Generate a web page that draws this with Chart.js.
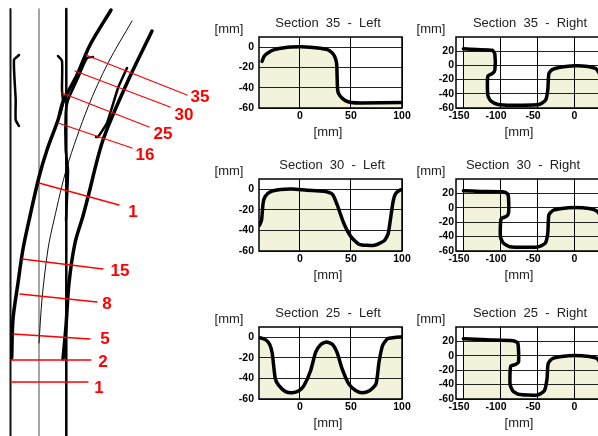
<!DOCTYPE html>
<html lang="en">

<head>
    <meta charset="UTF-8">
    <script src="https://cdn.jsdelivr.net/npm/chart.js@4"></script>
    <title>Rail sections</title>
    <style>
        html, body { margin: 0; padding: 0; width: 598px; height: 436px; overflow: hidden; background: #fff; }
        canvas { position: absolute; }
    </style>
</head>

<body>
    <canvas id="plan" width="212" height="436" style="left:0;top:0"></canvas>
    <canvas id="c35l" width="216" height="130" style="left:212px;top:10px"></canvas>
    <canvas id="c35r" width="195" height="130" style="left:409px;top:10px"></canvas>
    <canvas id="c30l" width="216" height="130" style="left:212px;top:152px"></canvas>
    <canvas id="c30r" width="195" height="130" style="left:409px;top:152px"></canvas>
    <canvas id="c25l" width="216" height="130" style="left:212px;top:300px"></canvas>
    <canvas id="c25r" width="195" height="130" style="left:409px;top:300px"></canvas>
</body>
<script>
    // section profiles, [mm] across / [mm] height
    const sec35Left = [[-37,-14],[-35,-9],[-31,-5.5],[-25,-2.5],[-15,-0.5],[0,0.3],[10,0],[20,-1],[27,-2.5],[31,-5],[34,-9],[36,-16],[36.5,-30],[37,-42],[38,-46],[41,-50],[45,-53],[50,-54.5],[60,-55],[100,-54.5]];
    const sec30Left = [[-39.5,-35],[-37.5,-30],[-36,-13.5],[-34,-7],[-29,-2.6],[-19,-0.3],[-7.5,0.3],[7,-1],[23.5,-2],[32,-5],[36.5,-15],[43,-33],[50,-46],[58,-53.5],[73,-54.4],[82.5,-50],[86.5,-43],[91,-13.4],[93.5,-4.6],[97.5,-1],[100,-0.3]];
    const sec25Left = [[-39.5,-0.3],[-34,-2],[-29.5,-7],[-27,-16],[-24,-40.5],[-20.5,-47],[-14,-52.8],[-7.5,-54],[-1,-52],[4,-47],[10.5,-32.5],[15.5,-14.5],[20.5,-7],[26,-4.6],[32,-7],[36.5,-15],[41.5,-31],[48,-45.5],[55,-52],[61,-54],[68,-52],[74.5,-45.5],[77.5,-24],[81,-8],[86,-1.3],[92.5,-0.3],[100,0.3]];
    const sec35Right = [[-150,23.3],[-132,22.3],[-111,21.4],[-107.5,16],[-107.5,-7],[-111,-11.6],[-117,-15],[-117,-42],[-113,-50],[-103,-55],[-85,-56],[-48,-55],[-39,-49],[-36,-35],[-34.5,-11.5],[-30,-6],[-17,-2.3],[0,-0.5],[18,-1.4],[29,-4.6],[35.5,-14]];
    const sec30Right = [[-150,23.7],[-127,22.8],[-97,22.3],[-90.5,19.5],[-89,13.5],[-89,-7.4],[-92,-12],[-99,-15.3],[-100,-40],[-96.5,-48.4],[-87.5,-54],[-50,-54.4],[-39.5,-49.3],[-36,-35.3],[-34.5,-10],[-29,-3.7],[-17,-1],[0,0.5],[20,-1],[31,-5],[36.5,-13.5]];
    const sec25Right = [[-150,23.7],[-118,22.3],[-83,21],[-76.5,17.7],[-75.5,-8.8],[-79.5,-12],[-86,-14.4],[-87,-39],[-83.5,-48.4],[-75.5,-53.5],[-50,-54.4],[-40.5,-48.4],[-37,-32],[-35.5,-11],[-30,-4],[-17,-1],[0,0.5],[20,-1],[31,-4],[36.5,-12.5]];

    const xTicksLeft = [0, 50, 100];
    const xTicksRight = [-150, -100, -50, 0];
    const yTicksLeft = [0, -20, -40, -60];
    const yTicksRight = [20, 0, -20, -40, -60];

    // plan view of the turnout
    const railLeft = [[10.5,9],[10.5,436]];
    const axisMain = [[39,9],[39,436]];
    const railRight = [[66.3,9],[66.3,436]];
    const railBranchA = [[111,10],[90,45],[77,75],[63,102],[58,120],[47,150],[39,177],[30,216],[23,249],[18,283],[13,319],[11.7,358]];
    const railBranchB = [[152,31],[127,83],[103,140],[88,197],[83,216],[75,243],[69,283],[66,326],[63,359]];
    const axisBranch = [[132,21],[108,63],[88,107],[67,167],[54,220],[48,249],[42,299],[39,343]];
    const wingLeft = [[19,55],[14,60],[15.7,100],[15.7,120],[19,126]];
    const wingRight = [[58,56],[62,61],[62,90],[63,103],[60,115]];
    const closure = [[93,57],[87,58],[78,78],[68,100],[65.7,113],[65.7,150],[68,170],[66,220]];
    const guardRight = [[127,68],[118,88],[107,123],[98,137],[96,137]];

    const sectionLabels = ['35', '30', '25', '16', '1', '15', '8', '5', '2', '1'];
    const sectionFrom = [[86,55],[75,71],[62,93],[58,123],[39,183],[22,259],[20,294],[13,334],[11,360],[11,382]];
    const sectionTo = [[187,95],[170,107],[149,127],[132,148],[119,205],[103,269],[97,302],[90,339],[91,360],[88,382]];
    const labelAt = [[200,97],[184,115],[163,134],[145,155],[133,212],[120,271],[107,304],[105,339],[103,362],[99,388]];

    Chart.defaults.font.family = '"Liberation Sans", Arial, sans-serif';
    Chart.defaults.animation = false;

    const toPoints = arr => arr.map(p => ({ x: p[0], y: p[1] }));

    function planLine(arr, width, color, tension) {
        return { data: toPoints(arr), showLine: true, pointRadius: 0, borderWidth: width, borderColor: color, tension: tension, borderCapStyle: 'round', fill: false };
    }

    const planSets = [];
    sectionFrom.forEach((p, i) => planSets.push(planLine([p, sectionTo[i]], 1.3, '#f00', 0)));
    planSets.push(
        planLine(railRight, 2.5, '#000', 0),
        planLine(railBranchA, 3.5, '#000', 0.3),
        planLine(railBranchB, 3.5, '#000', 0.3),
        planLine(wingLeft, 2.5, '#000', 0.2),
        planLine(wingRight, 2.5, '#000', 0.2),
        planLine(closure, 2.5, '#000', 0.2),
        planLine(guardRight, 2.5, '#000', 0.1),
        planLine(railLeft, 2, '#111', 0),
        planLine(axisBranch, 1, '#111', 0.3),
        planLine(axisMain, 1.5, '#888', 0)
    );

    new Chart(document.getElementById('plan'), {
        type: 'scatter',
        data: { datasets: planSets },
        options: {
            responsive: false,
            layout: { autoPadding: false },
            plugins: { legend: { display: false }, tooltip: { enabled: false } },
            scales: {
                x: { display: false, min: 0, max: 212 },
                y: { display: false, min: 0, max: 436, reverse: true }
            }
        },
        plugins: [{
            id: 'sectionNames',
            afterDatasetsDraw(chart) {
                const ctx = chart.ctx;
                ctx.save();
                ctx.fillStyle = '#f00';
                ctx.font = 'bold 17px "Liberation Sans"';
                ctx.textAlign = 'center';
                ctx.textBaseline = 'middle';
                sectionLabels.forEach((t, i) => {
                    ctx.fillText(t, chart.scales.x.getPixelForValue(labelAt[i][0]), chart.scales.y.getPixelForValue(labelAt[i][1]));
                });
                ctx.restore();
            }
        }]
    });

    function section(id, title, curve, isRight, plotH, textX, fillFrom) {
        const xMin = isRight ? -160 : -40, xMax = isRight ? 40 : 100;
        const yMax = isRight ? 40 : 10;
        const xTicks = isRight ? xTicksRight : xTicksLeft;
        const yTicks = isRight ? yTicksRight : yTicksLeft;
        const fillPts = fillFrom !== undefined ? [[xMin, fillFrom], ...curve] : curve;
        const canvas = document.getElementById(id);
        const plotLeft = 47;
        const plotTop = 27;
        // right panels: labels sit a little left of their grid lines in the original
        const xLabel = v => (isRight && v !== 0) ? v + '   ' : String(v);
        new Chart(canvas, {
            type: 'scatter',
            data: {
                datasets: [
                    { data: toPoints(curve), showLine: true, pointRadius: 0, borderWidth: 3.5, borderColor: '#000', fill: false, tension: 0.2, borderCapStyle: 'round', borderJoinStyle: 'round' },
                    { data: toPoints(fillPts), showLine: true, pointRadius: 0, borderWidth: 0, borderColor: 'transparent', backgroundColor: '#f3f2da', fill: 'start', tension: 0.2 }
                ]
            },
            options: {
                responsive: false,
                layout: { autoPadding: false, padding: { top: plotTop, left: 0, right: isRight ? 0 : 26, bottom: 0 } },
                plugins: { legend: { display: false }, tooltip: { enabled: false } },
                scales: {
                    x: {
                        type: 'linear', min: xMin, max: xMax,
                        afterBuildTicks: s => { s.ticks = xTicks.map(v => ({ value: v })); },
                        afterFit: s => { s.height = canvas.height - plotTop - plotH; },
                        grid: { color: '#000', lineWidth: 1, drawTicks: false },
                        border: { display: false },
                        ticks: { color: '#000', font: { size: 10.5, weight: 'bold' }, padding: 2, maxRotation: 0, autoSkip: false, callback: xLabel }
                    },
                    y: {
                        type: 'linear', min: -60, max: yMax,
                        afterBuildTicks: s => { s.ticks = yTicks.map(v => ({ value: v })); },
                        afterFit: s => { s.width = plotLeft; },
                        grid: { color: '#222', lineWidth: 1, drawTicks: false },
                        border: { display: false },
                        ticks: { color: '#000', font: { size: 10.5, weight: 'bold' }, padding: isRight ? 2 : 5, autoSkip: false, callback: v => String(v) }
                    }
                }
            },
            plugins: [{
                id: 'panelFrame',
                // grid has to show through the beige, so it goes back on top of the fill here
                beforeDatasetDraw(chart, args) {
                    if (args.index !== 0) return;
                    chart.scales.x.drawGrid(chart.chartArea);
                    chart.scales.y.drawGrid(chart.chartArea);
                },
                afterDraw(chart) {
                    const ctx = chart.ctx, a = chart.chartArea;
                    ctx.save();
                    ctx.strokeStyle = '#000';
                    ctx.lineWidth = 1.5;
                    ctx.strokeRect(a.left, a.top, a.right - a.left, a.bottom - a.top);
                    ctx.fillStyle = '#222';
                    ctx.textAlign = 'center';
                    ctx.textBaseline = 'middle';
                    ctx.font = '13px "Liberation Sans"';
                    ctx.fillText(title, textX, a.top - 14);
                    ctx.fillText('[mm]', isRight ? 22 : 17, a.top - 8);
                    ctx.fillText('[mm]', isRight ? 110 : 116, a.bottom + 24);
                    ctx.restore();
                }
            }]
        });
    }

    section('c35l', 'Section  35  -  Left', sec35Left, false, 71, 116, -14);
    section('c35r', 'Section  35  -  Right', sec35Right, true, 71, 121);
    section('c30l', 'Section  30  -  Left', sec30Left, false, 72, 120);
    section('c30r', 'Section  30  -  Right', sec30Right, true, 72, 114);
    section('c25l', 'Section  25  -  Left', sec25Left, false, 72, 116);
    section('c25r', 'Section  25  -  Right', sec25Right, true, 72, 121);
</script>

</html>
